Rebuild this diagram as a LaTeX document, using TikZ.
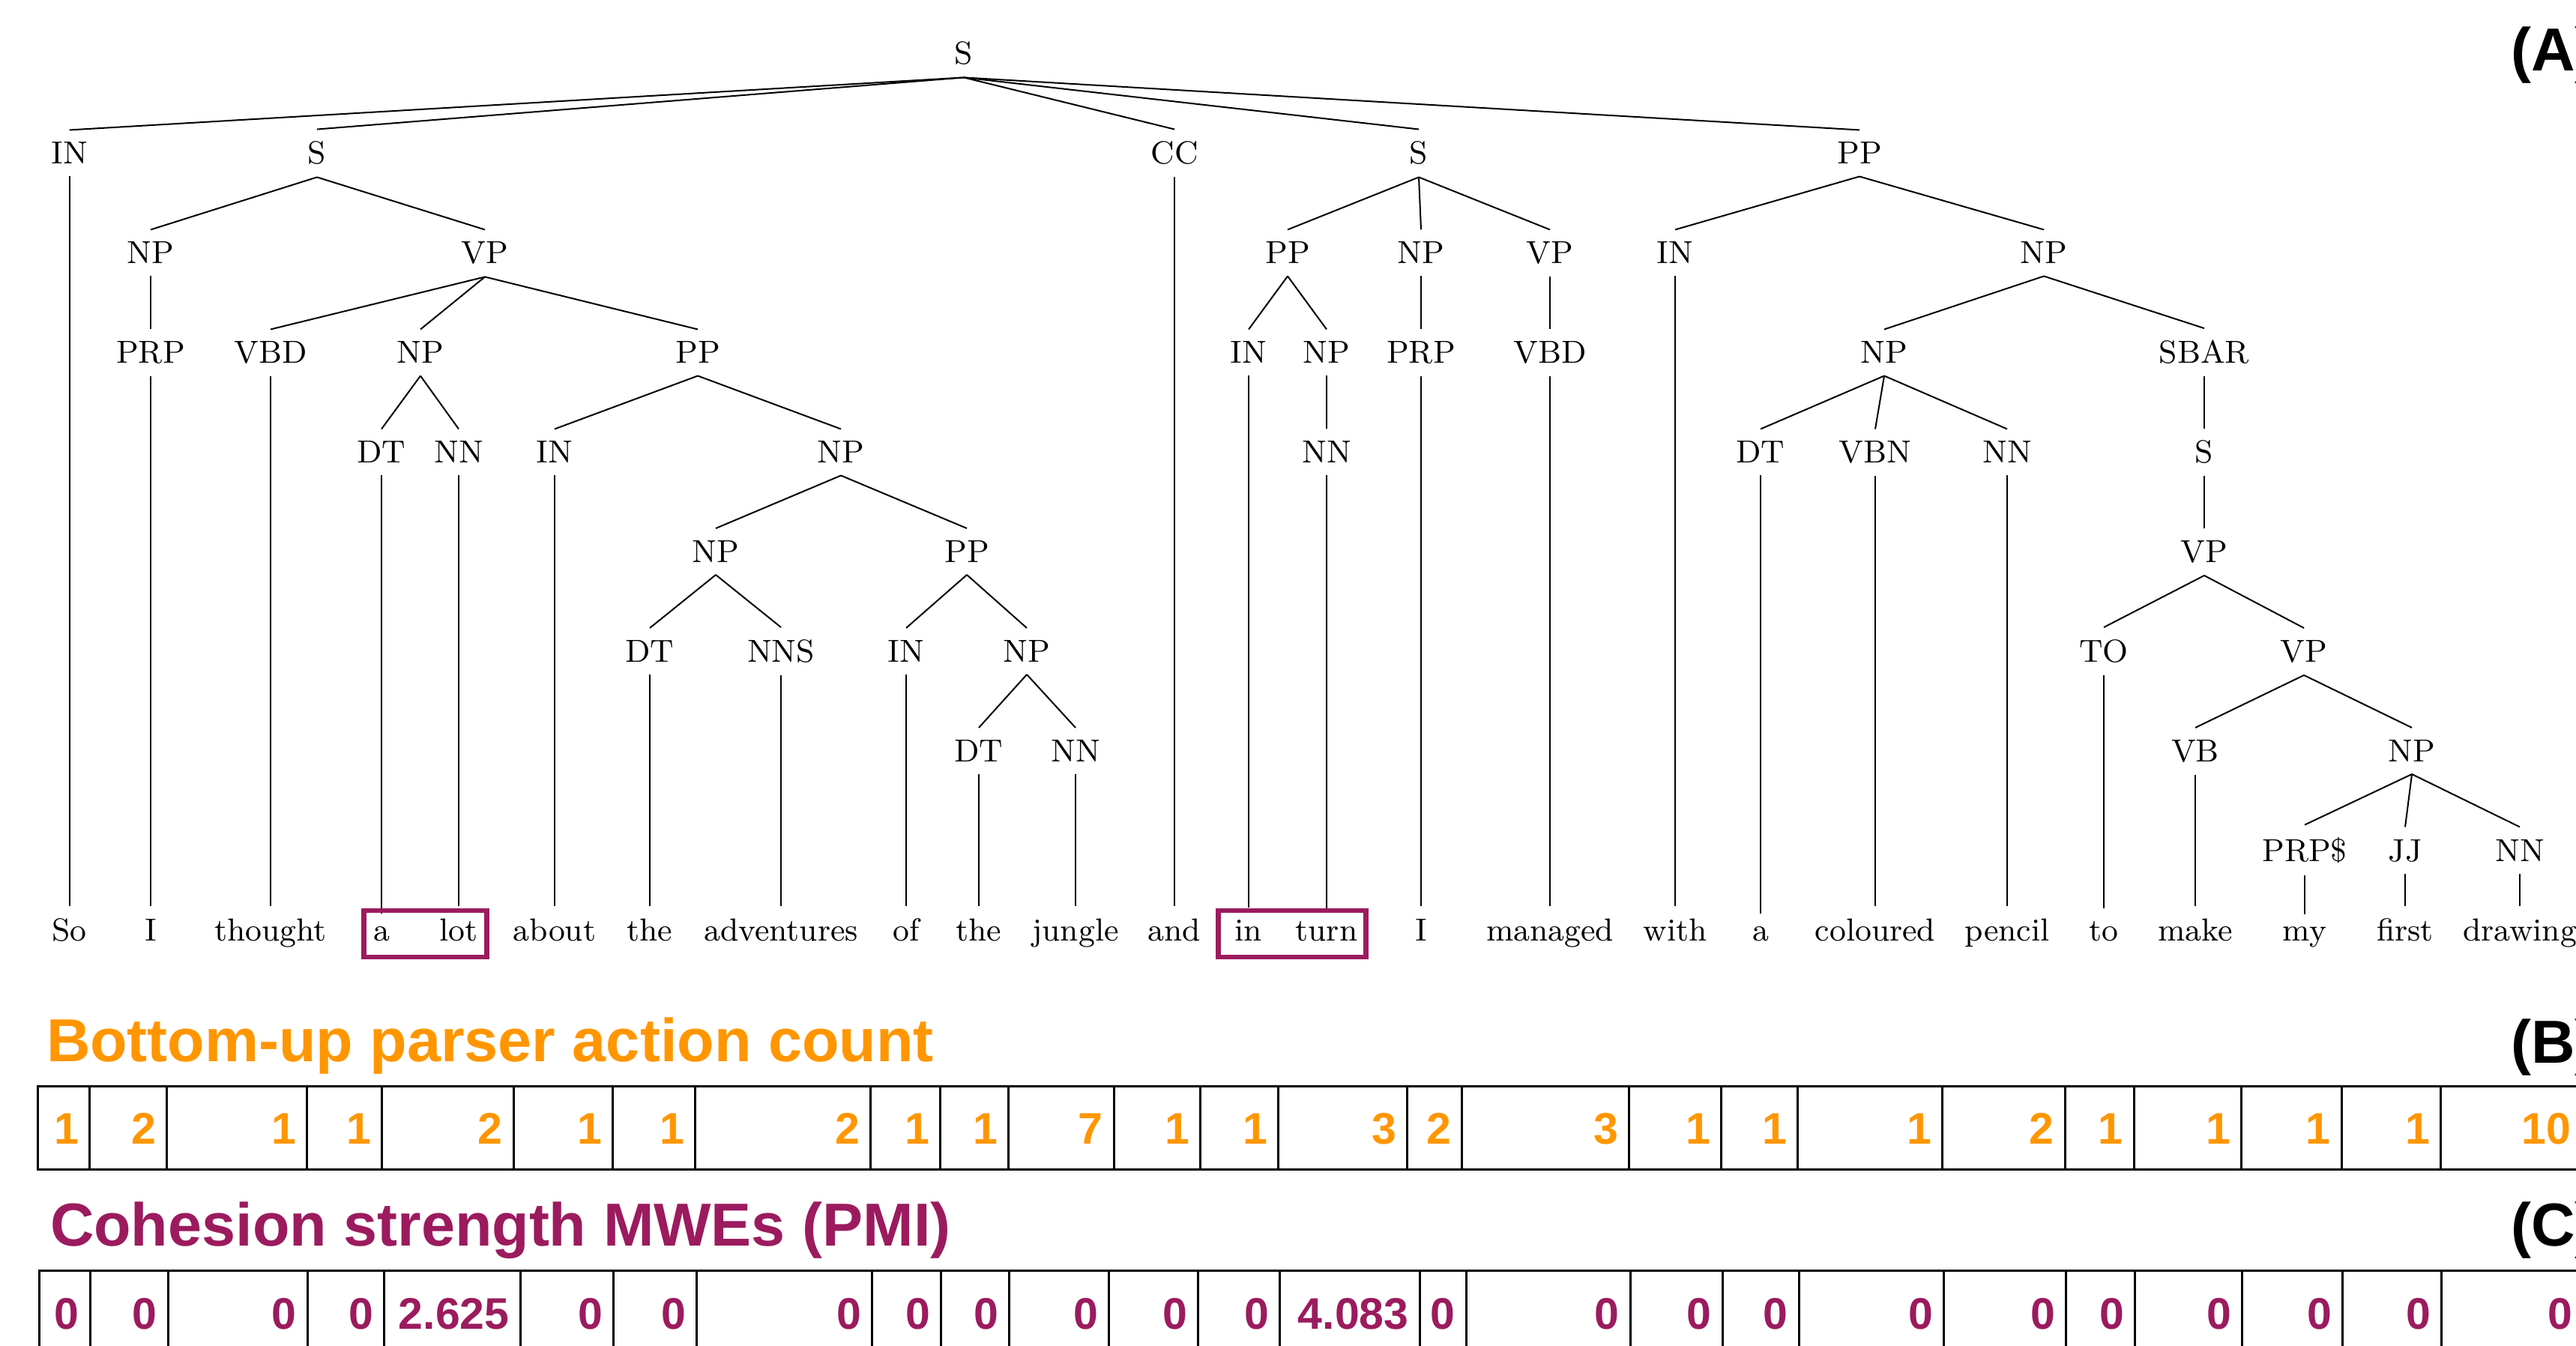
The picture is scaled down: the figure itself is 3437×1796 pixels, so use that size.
\documentclass[tikz,border=0pt]{standalone}
\usepackage{fontspec}
\newfontfamily\hdfont{Liberation Sans}
\definecolor{actorange}{RGB}{255,150,0}
\definecolor{pmipurple}{RGB}{155,27,94}

\begin{document}
\begin{tikzpicture}[x=0.2pt,y=-0.2pt,
  tag/.style={inner sep=3.3pt, outer sep=0pt, anchor=base,
    font=\fontsize{8.5pt}{10pt}\selectfont},
  word/.style={tag},
  edge/.style={line width=0.4pt},
  mwe/.style={draw=pmipurple, line width=1.3pt},
  cell/.style={draw=black, line width=0.6pt},
  num/.style={anchor=base east, inner sep=0pt,
    font=\hdfont\bfseries\fontsize{11.8pt}{13pt}\selectfont},
  header/.style={anchor=base west, inner sep=0pt,
    font=\hdfont\bfseries\fontsize{16.2pt}{19pt}\selectfont},
]
\useasboundingbox (0,0) rectangle (3437,1796);

% ---------- constituency tree ----------
\node[tag] (S0) at (1286,86) {S};

\node[tag] (in1) at (92.6,219) {IN};
\node[tag] (s1)  at (423,219)  {S};
\node[tag] (cc1) at (1567,219) {CC};
\node[tag] (s2)  at (1893,219) {S};
\node[tag] (pp1) at (2481,219) {PP};

\node[tag] (npA)  at (201,352)  {NP};
\node[tag] (vpA)  at (647,352)  {VP};
\node[tag] (ppB)  at (1718,352) {PP};
\node[tag] (npB)  at (1896,352) {NP};
\node[tag] (vpB)  at (2068,352) {VP};
\node[tag] (inC)  at (2235,352) {IN};
\node[tag] (npC)  at (2727,352) {NP};

\node[tag] (prpA)  at (201,485)  {PRP};
\node[tag] (vbdA)  at (361,485)  {VBD};
\node[tag] (npA2)  at (561,485)  {NP};
\node[tag] (ppA)   at (931,485)  {PP};
\node[tag] (inB)   at (1666,485) {IN};
\node[tag] (npB2)  at (1770,485) {NP};
\node[tag] (prpB)  at (1896,485) {PRP};
\node[tag] (vbdB)  at (2068,485) {VBD};
\node[tag] (npC2)  at (2514,485) {NP};
\node[tag] (sbar)  at (2941,485) {SBAR};

\node[tag] (dtA)   at (509,618)  {DT};
\node[tag] (nnA)   at (612,618)  {NN};
\node[tag] (inA)   at (740,618)  {IN};
\node[tag] (npA3)  at (1122,618) {NP};
\node[tag] (nnB)   at (1770,618) {NN};
\node[tag] (dtC)   at (2349,618) {DT};
\node[tag] (vbnC)  at (2502,618) {VBN};
\node[tag] (nnC)   at (2678,618) {NN};
\node[tag] (sC)    at (2941,618) {S};

\node[tag] (npA4)  at (955,750.5)  {NP};
\node[tag] (ppA2)  at (1290,750.5) {PP};
\node[tag] (vpC)   at (2941,750.5) {VP};

\node[tag] (dtA2)  at (867,883.5)  {DT};
\node[tag] (nnsA)  at (1042,883.5) {NNS};
\node[tag] (inA2)  at (1209,883.5) {IN};
\node[tag] (npA5)  at (1370,883.5) {NP};
\node[tag] (toC)   at (2807,883.5) {TO};
\node[tag] (vpC2)  at (3074,883.5) {VP};

\node[tag] (dtA3)  at (1306,1016.5) {DT};
\node[tag] (nnA3)  at (1435,1016.5) {NN};
\node[tag] (vbC)   at (2929,1016.5) {VB};
\node[tag] (npC3)  at (3218,1016.5) {NP};

\node[tag] (prpsC) at (3075,1149) {PRP\$};
\node[tag] (jjC)   at (3209,1149) {JJ};
\node[tag] (nnC3)  at (3362,1149) {NN};

% ---------- sentence ----------
\foreach \x/\t [count=\i] in {92.6/So, 201/I, 361/thought, 509/a, 612/lot,
  740/about, 867/the, 1042/adventures, 1209/of, 1306/the, 1435/jungle,
  1567/and, 1666/in, 1770/turn, 1896/I, 2068/managed, 2235/with, 2349/a,
  2502/coloured, 2678/pencil, 2807/to, 2929/make, 3075/my, 3209/first,
  3362/drawing}
  \node[word] (w\i) at (\x,1255) {\t};

% ---------- branches ----------
\foreach \p/\c in {S0/in1, S0/s1, S0/cc1, S0/s2, S0/pp1,
  in1/w1, s1/npA, s1/vpA, npA/prpA, prpA/w2,
  vpA/vbdA, vpA/npA2, vpA/ppA, vbdA/w3, npA2/dtA, npA2/nnA, dtA/w4, nnA/w5,
  ppA/inA, ppA/npA3, inA/w6, npA3/npA4, npA3/ppA2,
  npA4/dtA2, npA4/nnsA, dtA2/w7, nnsA/w8,
  ppA2/inA2, ppA2/npA5, inA2/w9, npA5/dtA3, npA5/nnA3, dtA3/w10, nnA3/w11,
  cc1/w12,
  s2/ppB, s2/npB, s2/vpB, ppB/inB, ppB/npB2, inB/w13, npB2/nnB, nnB/w14,
  npB/prpB, prpB/w15, vpB/vbdB, vbdB/w16,
  pp1/inC, pp1/npC, inC/w17, npC/npC2, npC/sbar,
  npC2/dtC, npC2/vbnC, npC2/nnC, dtC/w18, vbnC/w19, nnC/w20,
  sbar/sC, sC/vpC, vpC/toC, vpC/vpC2, toC/w21, vpC2/vbC, vpC2/npC3, vbC/w22,
  npC3/prpsC, npC3/jjC, npC3/nnC3, prpsC/w23, jjC/w24, nnC3/w25}
  \draw[edge] (\p.south) -- (\c.north);

% ---------- multi-word expressions ----------
\draw[mwe] (485.5,1215) rectangle (649.5,1277);
\draw[mwe] (1625.5,1215) rectangle (1822.5,1277);

% ---------- panel labels and headings ----------
\node[header, text=black] (labA) at (3349,95) {(A)};
\node[header, text=black] (labB) at (3349,1418) {(B)};
\node[header, text=black] (labC) at (3349,1662) {(C)};
\node[header, text=actorange] (headB) at (61,1416) {Bottom-up parser action count};
\node[header, text=pmipurple] (headC) at (66,1662) {Cohesion strength MWEs (PMI)};

% ---------- action counts ----------
\foreach \l/\r/\v [count=\i] in {50.5/119.4/1, 119.4/222.7/2, 222.7/409.4/1,
  409.4/509.7/1, 509.7/685/2, 685/817.3/1, 817.3/927.5/1, 927.5/1161.7/2,
  1161.7/1254.3/1, 1254.3/1345.4/1, 1345.4/1486.2/7, 1486.2/1601.8/1,
  1601.8/1705.9/1, 1705.9/1877.3/3, 1877.3/1950.7/2, 1950.7/2173.5/3,
  2173.5/2296.7/1, 2296.7/2398.5/1, 2398.5/2591.8/1, 2591.8/2755.2/2,
  2755.2/2847.1/1, 2847.1/2990.6/1, 2990.6/3124.2/1, 3124.2/3256.5/1,
  3256.5/3445/10}
{
  \draw[cell] (\l,1449) rectangle (\r,1560);
  \node[num, text=actorange] (cnt\i) at (\r-13.5,1526.7) {\v};
}

% ---------- PMI cohesion ----------
\foreach \l/\r/\v [count=\i] in {52.8/120.2/0, 120.2/224.2/0, 224.2/410.2/0,
  410.2/512.8/0, 512.8/694.1/2.625, 694.1/818.9/0, 818.9/929.8/0,
  929.8/1163.3/0, 1163.3/1255.9/0, 1255.9/1346.9/0, 1346.9/1479.3/0,
  1479.3/1598.7/0, 1598.7/1707.4/0, 1707.4/1894.1/4.083, 1894.1/1956.1/0,
  1956.1/2175/0, 2175/2298.2/0, 2298.2/2400/0, 2400/2593.8/0,
  2593.8/2756.5/0, 2756.5/2848.4/0, 2848.4/2991.9/0, 2991.9/3125.5/0,
  3125.5/3257.8/0, 3257.8/3447/0}
{
  \draw[cell] (\l,1695) rectangle (\r,1806);
  \node[num, text=pmipurple] (pmi\i) at (\r-13.5,1773) {\v};
}
\end{tikzpicture}
\end{document}
